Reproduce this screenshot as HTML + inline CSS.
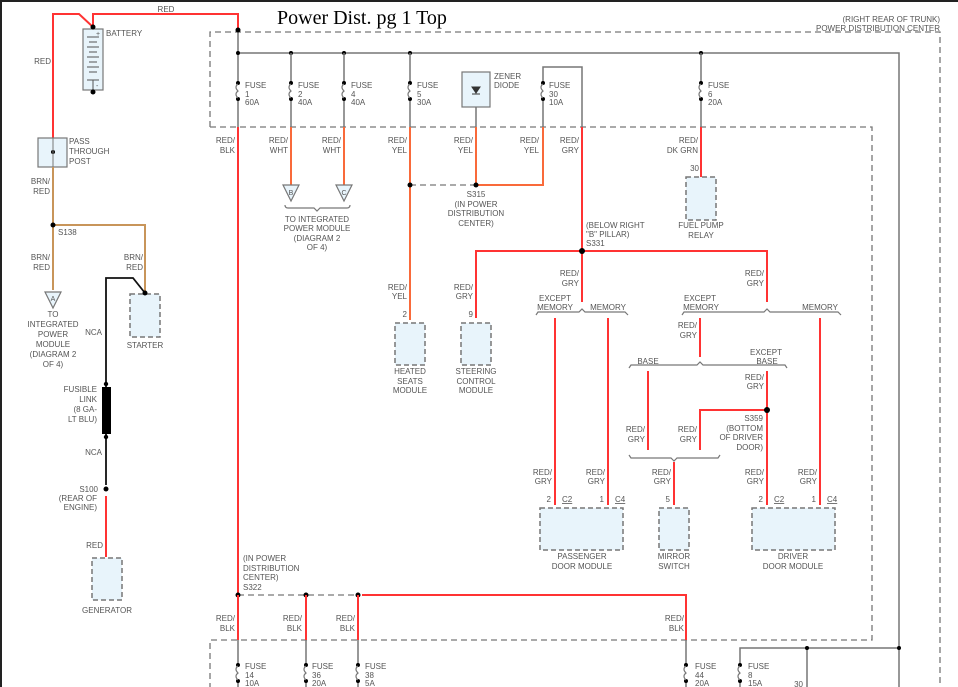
<!DOCTYPE html>
<html><head><meta charset="utf-8"><style>
html,body{margin:0;padding:0;background:#fff}
svg{display:block}
text{font-family:"Liberation Sans",sans-serif;font-size:8px;fill:#555}
.c{text-anchor:middle}.r{text-anchor:end}
.g{stroke:#777;stroke-width:1.5;fill:none}
.d{stroke:#777;stroke-width:1.3;fill:none;stroke-dasharray:6,4}
.rd{stroke:#f33;stroke-width:2;fill:none}
.or{stroke:#f96a3a;stroke-width:2;fill:none}
.br{stroke:#c8955a;stroke-width:2;fill:none}
.bk{stroke:#111;stroke-width:1.8;fill:none}
.box{fill:#e8f4fb;stroke:#777;stroke-width:1.5;stroke-dasharray:5,3}
.sb{fill:#e8f4fb;stroke:#777;stroke-width:1.2}
.brc{stroke:#777;stroke-width:1.2;fill:none}
</style></head><body>
<svg width="958" height="687" viewBox="0 0 958 687" xmlns="http://www.w3.org/2000/svg">
<rect x="0" y="0" width="958" height="2" fill="#222"/><rect x="0" y="0" width="2" height="687" fill="#222"/>
<text x="277" y="24" style="font-family:'Liberation Serif',serif;font-size:20px;fill:#000">Power Dist. pg 1 Top</text>
<text x="940" y="22" class="r">(RIGHT REAR OF TRUNK)</text>
<text x="940" y="31" class="r">POWER DISTRIBUTION CENTER</text>

<!-- dashed boxes -->
<path class="d" d="M210,127 V32 H940 V687"/>
<path class="d" d="M210,127 H872 V640 H210 V687"/>

<!-- battery & red feed -->
<path class="rd" d="M53,153 V14 H79 L93,27 M93,27 V14 H238 V30"/>
<rect x="83" y="29" width="20" height="61" class="sb"/>
<g stroke="#555" stroke-width="1"><line x1="87" y1="37" x2="99" y2="37"/><line x1="89" y1="42" x2="97" y2="42"/><line x1="87" y1="47" x2="99" y2="47"/><line x1="89" y1="52" x2="97" y2="52"/><line x1="87" y1="57" x2="99" y2="57"/><line x1="89" y1="62" x2="97" y2="62"/><line x1="87" y1="67" x2="99" y2="67"/><line x1="89" y1="72" x2="97" y2="72"/><line x1="87" y1="80" x2="99" y2="80"/><line x1="93" y1="80" x2="93" y2="92"/></g>
<text x="96" y="36" style="font-size:7px">+</text><text x="96" y="88" style="font-size:7px">-</text>
<circle cx="93" cy="27" r="2.5" fill="#000"/><circle cx="93" cy="92" r="2.5" fill="#000"/>
<text x="106" y="36">BATTERY</text>
<text x="166" y="12" class="c">RED</text>
<text x="51" y="64" class="r">RED</text>

<!-- pass through post -->
<rect x="38" y="138" width="29" height="29" class="sb"/>
<circle cx="53" cy="152" r="2" fill="#000"/>
<line x1="53" y1="138" x2="53" y2="167" stroke="#777" stroke-width="1"/>
<text x="69" y="144">PASS</text><text x="69" y="154">THROUGH</text><text x="69" y="164">POST</text>
<text x="50" y="184" class="r">BRN/</text><text x="50" y="194" class="r">RED</text>
<path class="br" d="M53,167 V290 M53,225 H145 V293"/>
<circle cx="53" cy="225" r="2.5" fill="#000"/>
<text x="58" y="235">S138</text>
<text x="50" y="260" class="r">BRN/</text><text x="50" y="270" class="r">RED</text>
<text x="143" y="260" class="r">BRN/</text><text x="143" y="270" class="r">RED</text>
<path d="M45,292 H61 L53,308 Z" class="sb"/><text x="53" y="301" class="c" style="font-size:7px">A</text>
<text x="53" y="317" class="c">TO</text><text x="53" y="327" class="c">INTEGRATED</text><text x="53" y="337" class="c">POWER</text><text x="53" y="347" class="c">MODULE</text><text x="53" y="357" class="c">(DIAGRAM 2</text><text x="53" y="367" class="c">OF 4)</text>

<!-- starter / fusible -->
<rect x="130" y="294" width="30" height="43" class="box"/>
<text x="145" y="348" class="c">STARTER</text>
<path class="bk" d="M145,293 L133,278 H106 V485"/>
<circle cx="145" cy="293" r="2.5" fill="#000"/>
<rect x="102" y="387" width="9" height="47" fill="#000"/>
<circle cx="106" cy="384" r="2.2" fill="#000"/><circle cx="106" cy="437" r="2.2" fill="#000"/>
<text x="102" y="335" class="r">NCA</text>
<text x="97" y="392" class="r">FUSIBLE</text><text x="97" y="402" class="r">LINK</text><text x="97" y="412" class="r">(8 GA-</text><text x="97" y="422" class="r">LT BLU)</text>
<text x="102" y="455" class="r">NCA</text>
<circle cx="106" cy="489" r="2.5" fill="#000"/>
<text x="98" y="492" class="r">S100</text><text x="97" y="501" class="r">(REAR OF</text><text x="97" y="510" class="r">ENGINE)</text>
<path class="rd" d="M106,496 V557"/>
<text x="103" y="548" class="r">RED</text>
<rect x="92" y="558" width="30" height="42" class="box"/>
<text x="107" y="613" class="c">GENERATOR</text>

<!-- PDC bus -->
<path class="g" d="M238,30 V127 M238,53 H899 V687"/>
<g fill="#000"><circle cx="238" cy="30" r="2.5"/><circle cx="238" cy="53" r="2"/><circle cx="291" cy="53" r="2"/><circle cx="344" cy="53" r="2"/><circle cx="410" cy="53" r="2"/><circle cx="701" cy="53" r="2"/></g>
<path class="g" d="M291,53 V127 M344,53 V127 M410,53 V127 M701,53 V127 M543,83 V67 H582 V127 M543,99 V127 M476,107 V127"/>
<!-- fuses -->
<g fill="#000">
<circle cx="238" cy="83" r="2"/><circle cx="238" cy="99" r="2"/>
<circle cx="291" cy="83" r="2"/><circle cx="291" cy="99" r="2"/>
<circle cx="344" cy="83" r="2"/><circle cx="344" cy="99" r="2"/>
<circle cx="410" cy="83" r="2"/><circle cx="410" cy="99" r="2"/>
<circle cx="543" cy="83" r="2"/><circle cx="543" cy="99" r="2"/>
<circle cx="701" cy="83" r="2"/><circle cx="701" cy="99" r="2"/>
</g>
<g fill="#fff" stroke="#fff" stroke-width="3"><line x1="238" y1="85" x2="238" y2="97"/><line x1="291" y1="85" x2="291" y2="97"/><line x1="344" y1="85" x2="344" y2="97"/><line x1="410" y1="85" x2="410" y2="97"/><line x1="543" y1="85" x2="543" y2="97"/><line x1="701" y1="85" x2="701" y2="97"/></g>
<g class="brc"><path d="M238,84 q-4,3 0,7 q-4,3 0,7"/><path d="M291,84 q-4,3 0,7 q-4,3 0,7"/><path d="M344,84 q-4,3 0,7 q-4,3 0,7"/><path d="M410,84 q-4,3 0,7 q-4,3 0,7"/><path d="M543,84 q-4,3 0,7 q-4,3 0,7"/><path d="M701,84 q-4,3 0,7 q-4,3 0,7"/></g>
<text x="245" y="88">FUSE</text><text x="245" y="97">1</text><text x="245" y="105">60A</text>
<text x="298" y="88">FUSE</text><text x="298" y="97">2</text><text x="298" y="105">40A</text>
<text x="351" y="88">FUSE</text><text x="351" y="97">4</text><text x="351" y="105">40A</text>
<text x="417" y="88">FUSE</text><text x="417" y="97">5</text><text x="417" y="105">30A</text>
<text x="549" y="88">FUSE</text><text x="549" y="97">30</text><text x="549" y="105">10A</text>
<text x="708" y="88">FUSE</text><text x="708" y="97">6</text><text x="708" y="105">20A</text>
<rect x="462" y="72" width="28" height="35" class="sb"/>
<path d="M472,87 H480 L476,93 Z M472,94 H480" stroke="#333" fill="#333" stroke-width="1"/>
<text x="494" y="79">ZENER</text><text x="494" y="88">DIODE</text>

<!-- wires below PDC -->
<path class="rd" d="M238,127 V595"/>
<path class="or" d="M291,127 V185 M344,127 V185 M410,127 V320 M476,127 V185 M543,127 V185 H476"/>
<path class="rd" d="M582,127 V251 M701,127 V177"/>
<text x="235" y="143" class="r">RED/</text><text x="235" y="153" class="r">BLK</text>
<text x="288" y="143" class="r">RED/</text><text x="288" y="153" class="r">WHT</text>
<text x="341" y="143" class="r">RED/</text><text x="341" y="153" class="r">WHT</text>
<text x="407" y="143" class="r">RED/</text><text x="407" y="153" class="r">YEL</text>
<text x="473" y="143" class="r">RED/</text><text x="473" y="153" class="r">YEL</text>
<text x="539" y="143" class="r">RED/</text><text x="539" y="153" class="r">YEL</text>
<text x="579" y="143" class="r">RED/</text><text x="579" y="153" class="r">GRY</text>
<text x="698" y="143" class="r">RED/</text><text x="698" y="153" class="r">DK GRN</text>
<path d="M283,185 H299 L291,201 Z M336,185 H352 L344,201 Z" class="sb"/>
<text x="291" y="195" class="c" style="font-size:7px">B</text><text x="344" y="195" class="c" style="font-size:7px">C</text>
<path class="brc" d="M285,205 q0,3 3,3 H314 l3,3 l3,-3 H347 q3,0 3,-3"/>
<text x="317" y="222" class="c">TO INTEGRATED</text><text x="317" y="231" class="c">POWER MODULE</text><text x="317" y="241" class="c">(DIAGRAM 2</text><text x="317" y="250" class="c">OF 4)</text>
<line x1="410" y1="185" x2="476" y2="185" class="d" stroke-dasharray="5,4"/>
<circle cx="410" cy="185" r="2.5" fill="#000"/><circle cx="476" cy="185" r="2.5" fill="#000"/>
<text x="476" y="197" class="c">S315</text><text x="476" y="207" class="c">(IN POWER</text><text x="476" y="216" class="c">DISTRIBUTION</text><text x="476" y="226" class="c">CENTER)</text>
<text x="699" y="171" class="r">30</text>
<rect x="686" y="177" width="30" height="43" class="box"/>
<text x="701" y="228" class="c">FUEL PUMP</text><text x="701" y="238" class="c">RELAY</text>

<!-- S331 -->
<text x="586" y="228">(BELOW RIGHT</text><text x="586" y="237">"B" PILLAR)</text><text x="586" y="246">S331</text>
<path class="rd" d="M476,318 V251 H767 V302 M582,251 V302"/>
<circle cx="582" cy="251" r="3" fill="#000"/>
<text x="407" y="290" class="r">RED/</text><text x="407" y="299" class="r">YEL</text>
<text x="473" y="290" class="r">RED/</text><text x="473" y="299" class="r">GRY</text>
<text x="407" y="317" class="r">2</text><text x="473" y="317" class="r">9</text>
<rect x="395" y="323" width="30" height="42" class="box"/>
<rect x="461" y="323" width="30" height="42" class="box"/>
<text x="410" y="374" class="c">HEATED</text><text x="410" y="384" class="c">SEATS</text><text x="410" y="393" class="c">MODULE</text>
<text x="476" y="374" class="c">STEERING</text><text x="476" y="384" class="c">CONTROL</text><text x="476" y="393" class="c">MODULE</text>
<text x="579" y="276" class="r">RED/</text><text x="579" y="286" class="r">GRY</text>
<text x="764" y="276" class="r">RED/</text><text x="764" y="286" class="r">GRY</text>

<!-- braces -->
<path class="brc" d="M536,315 l2,-3 H579 l3,-3 l3,3 H625 l3,3"/>
<path class="brc" d="M682,315 l2,-3 H764 l3,-3 l3,3 H838 l3,3"/>
<path class="brc" d="M629,368 l2,-3 H697 l3,-3 l3,3 H785 l2,3"/>
<path class="brc" d="M629,455 l2,3 H671 l3,3 l3,-3 H718 l2,-3"/>
<text x="555" y="301" class="c">EXCEPT</text><text x="555" y="310" class="c">MEMORY</text><text x="608" y="310" class="c">MEMORY</text>
<text x="700" y="301" class="c">EXCEPT</text><text x="701" y="310" class="c">MEMORY</text><text x="820" y="310" class="c">MEMORY</text>
<text x="648" y="364" class="c">BASE</text><text x="766" y="355" class="c">EXCEPT</text><text x="767" y="364" class="c">BASE</text>
<path class="rd" d="M555,318 V505 M608,318 V505 M820,318 V505 M700,318 V357 M648,371 V450 M767,371 V505 M767,410 H700 V450 M674,462 V505"/>
<circle cx="767" cy="410" r="3" fill="#000"/>
<text x="697" y="328" class="r">RED/</text><text x="697" y="338" class="r">GRY</text>
<text x="764" y="380" class="r">RED/</text><text x="764" y="389" class="r">GRY</text>
<text x="763" y="421" class="r">S359</text><text x="763" y="431" class="r">(BOTTOM</text><text x="763" y="440" class="r">OF DRIVER</text><text x="763" y="450" class="r">DOOR)</text>
<text x="645" y="432" class="r">RED/</text><text x="645" y="442" class="r">GRY</text>
<text x="697" y="432" class="r">RED/</text><text x="697" y="442" class="r">GRY</text>
<text x="552" y="475" class="r">RED/</text><text x="552" y="484" class="r">GRY</text>
<text x="605" y="475" class="r">RED/</text><text x="605" y="484" class="r">GRY</text>
<text x="671" y="475" class="r">RED/</text><text x="671" y="484" class="r">GRY</text>
<text x="764" y="475" class="r">RED/</text><text x="764" y="484" class="r">GRY</text>
<text x="817" y="475" class="r">RED/</text><text x="817" y="484" class="r">GRY</text>
<text x="551" y="502" class="r">2</text><text x="562" y="502" style="text-decoration:underline">C2</text>
<text x="604" y="502" class="r">1</text><text x="615" y="502" style="text-decoration:underline">C4</text>
<text x="670" y="502" class="r">5</text>
<text x="763" y="502" class="r">2</text><text x="774" y="502" style="text-decoration:underline">C2</text>
<text x="816" y="502" class="r">1</text><text x="827" y="502" style="text-decoration:underline">C4</text>
<rect x="540" y="508" width="83" height="42" class="box"/>
<rect x="659" y="508" width="30" height="42" class="box"/>
<rect x="752" y="508" width="83" height="42" class="box"/>
<text x="582" y="559" class="c">PASSENGER</text><text x="582" y="569" class="c">DOOR MODULE</text>
<text x="674" y="559" class="c">MIRROR</text><text x="674" y="569" class="c">SWITCH</text>
<text x="793" y="559" class="c">DRIVER</text><text x="793" y="569" class="c">DOOR MODULE</text>

<!-- bottom S322 -->
<text x="243" y="561">(IN POWER</text><text x="243" y="571">DISTRIBUTION</text><text x="243" y="580">CENTER)</text><text x="243" y="590">S322</text>
<line x1="238" y1="595" x2="358" y2="595" class="d" stroke-dasharray="5,4"/>
<circle cx="238" cy="595" r="2.5" fill="#000"/><circle cx="306" cy="595" r="2.5" fill="#000"/><circle cx="358" cy="595" r="2.5" fill="#000"/>
<path class="rd" d="M238,595 V640 M306,595 V640 M358,595 V640 M362,595 H686 V640"/>
<path class="g" d="M238,640 V687 M306,640 V687 M358,640 V687 M686,640 V687 M740,687 V648 H899 M807,648 V687"/>
<circle cx="807" cy="648" r="2" fill="#000"/><circle cx="899" cy="648" r="2" fill="#000"/>
<text x="235" y="621" class="r">RED/</text><text x="235" y="631" class="r">BLK</text>
<text x="302" y="621" class="r">RED/</text><text x="302" y="631" class="r">BLK</text>
<text x="355" y="621" class="r">RED/</text><text x="355" y="631" class="r">BLK</text>
<text x="684" y="621" class="r">RED/</text><text x="684" y="631" class="r">BLK</text>
<g fill="#000"><circle cx="238" cy="665" r="2"/><circle cx="238" cy="681" r="2"/><circle cx="306" cy="665" r="2"/><circle cx="306" cy="681" r="2"/><circle cx="358" cy="665" r="2"/><circle cx="358" cy="681" r="2"/><circle cx="686" cy="665" r="2"/><circle cx="686" cy="681" r="2"/><circle cx="740" cy="665" r="2"/><circle cx="740" cy="681" r="2"/></g>
<g stroke="#fff" stroke-width="3"><line x1="238" y1="667" x2="238" y2="679"/><line x1="306" y1="667" x2="306" y2="679"/><line x1="358" y1="667" x2="358" y2="679"/><line x1="686" y1="667" x2="686" y2="679"/><line x1="740" y1="667" x2="740" y2="679"/></g>
<g class="brc"><path d="M238,666 q-4,3 0,7 q-4,3 0,7"/><path d="M306,666 q-4,3 0,7 q-4,3 0,7"/><path d="M358,666 q-4,3 0,7 q-4,3 0,7"/><path d="M686,666 q-4,3 0,7 q-4,3 0,7"/><path d="M740,666 q-4,3 0,7 q-4,3 0,7"/></g>
<text x="245" y="669">FUSE</text><text x="245" y="678">14</text><text x="245" y="686">10A</text>
<text x="312" y="669">FUSE</text><text x="312" y="678">36</text><text x="312" y="686">20A</text>
<text x="365" y="669">FUSE</text><text x="365" y="678">38</text><text x="365" y="686">5A</text>
<text x="695" y="669">FUSE</text><text x="695" y="678">44</text><text x="695" y="686">20A</text>
<text x="748" y="669">FUSE</text><text x="748" y="678">8</text><text x="748" y="686">15A</text>
<text x="803" y="687" class="r">30</text>
</svg>
</body></html>
